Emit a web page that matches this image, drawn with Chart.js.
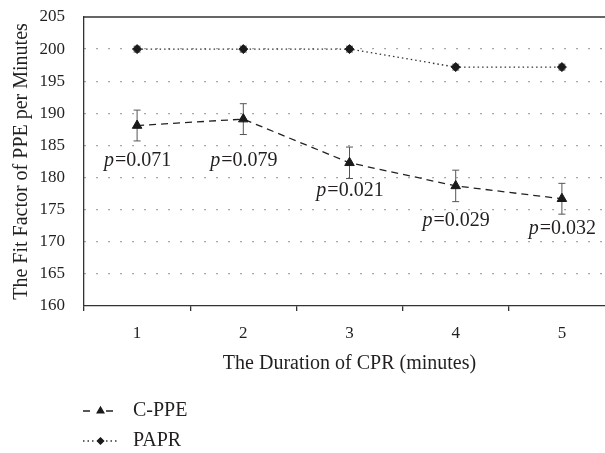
<!DOCTYPE html>
<html>
<head>
<meta charset="utf-8">
<script src="https://cdn.jsdelivr.net/npm/chart.js@4.4.1/dist/chart.umd.min.js"></script>
<style>
  html, body { margin: 0; padding: 0; background: #fff; overflow: hidden; }
  #wrap { width: 625px; height: 453px; }
</style>
</head>
<body>
<div id="wrap"><canvas id="chart" width="625" height="453"></canvas></div>
<script>
// --- data ---
const durations = ["1", "2", "3", "4", "5"];
const cppeMeans = [188.1, 189.1, 182.3, 178.7, 176.7];
const cppeErrors = [2.4, 2.4, 2.45, 2.45, 2.4];
const paprMeans = [200, 200, 200, 197.2, 197.2];
const paprErrors = [0.45, 0.45, 0.45, 0.45, 0.45];
const pValues = ["0.071", "0.079", "0.021", "0.029", "0.032"];
const yMin = 160, yMax = 205, yStep = 5;

const FONT = "'Liberation Serif', 'Times New Roman', serif";
const INK = "#231f20";

// エラーバー（マーカーの下に描く）
const errorBars = {
  id: "errorBars",
  beforeDatasetsDraw(chart) {
    const { ctx, scales: { x, y } } = chart;
    const sets = [[cppeMeans, cppeErrors], [paprMeans, paprErrors]];
    ctx.save();
    ctx.strokeStyle = "#555";
    ctx.lineWidth = 1;
    ctx.setLineDash([]);
    sets.forEach(([means, errs]) => {
      means.forEach((m, i) => {
        const px = x.getPixelForValue(i);
        const top = y.getPixelForValue(m + errs[i]);
        const bot = y.getPixelForValue(m - errs[i]);
        ctx.beginPath();
        ctx.moveTo(px, top); ctx.lineTo(px, bot);
        ctx.moveTo(px - 3.5, top); ctx.lineTo(px + 3.5, top);
        ctx.moveTo(px - 3.5, bot); ctx.lineTo(px + 3.5, bot);
        ctx.stroke();
      });
    });
    ctx.restore();
  }
};

// p値ラベル + 上枠 + 凡例
const extras = {
  id: "extras",
  afterDraw(chart, args, opts) {
    const { ctx, chartArea, scales: { x, y } } = chart;
    ctx.save();
    // top frame line
    ctx.strokeStyle = "#333";
    ctx.lineWidth = 1.3;
    ctx.beginPath();
    ctx.moveTo(chartArea.left, chartArea.top);
    ctx.lineTo(chartArea.right, chartArea.top);
    ctx.stroke();

    // p labels under C-PPE points
    ctx.fillStyle = INK;
    ctx.textBaseline = "middle";
    ctx.textAlign = "left";
    const italic = "italic 20px " + FONT;
    const normal = "20px " + FONT;
    pValues.forEach((p, i) => {
      const px = x.getPixelForValue(i);
      const py = y.getPixelForValue(cppeMeans[i]) + opts.labelOffsets[i];
      ctx.font = italic;
      const w1 = ctx.measureText("p").width;
      ctx.font = normal;
      const rest = "=" + p;
      const w2 = ctx.measureText(rest).width;
      const sx = px - (w1 + w2) / 2;
      ctx.font = italic;
      ctx.fillText("p", sx, py);
      ctx.font = normal;
      ctx.fillText(rest, sx + w1 + 1, py);
    });

    // legend
    const items = [
      { label: "C-PPE", ds: 0, y: 411 },
      { label: "PAPR", ds: 1, y: 441 }
    ];
    items.forEach(it => {
      const ds = chart.data.datasets[it.ds];
      ctx.strokeStyle = ds.borderColor;
      ctx.lineWidth = ds.borderWidth;
      ctx.setLineDash(ds.borderDash);
      ctx.beginPath();
      ctx.moveTo(83, it.y); ctx.lineTo(95, it.y);
      ctx.moveTo(106, it.y); ctx.lineTo(118, it.y);
      ctx.stroke();
      ctx.setLineDash([]);
      ctx.fillStyle = ds.pointBackgroundColor;
      ctx.strokeStyle = ds.pointBorderColor;
      Chart.helpers.drawPoint(ctx, {
        pointStyle: ds.pointStyle, radius: ds.pointRadius * 0.7, rotation: 0, borderWidth: 1
      }, 100.5, it.y);
      ctx.fillStyle = INK;
      ctx.font = normal;
      ctx.textAlign = "left";
      ctx.fillText(it.label, 133, it.y);
    });
    ctx.restore();
  }
};

const ctx = document.getElementById("chart").getContext("2d");
new Chart(ctx, {
  type: "line",
  data: {
    labels: durations,
    datasets: [
      {
        label: "C-PPE",
        data: cppeMeans,
        borderColor: "#222",
        borderWidth: 1.3,
        borderDash: [7, 5],
        pointStyle: "triangle",
        pointRadius: 5.5,
        pointBackgroundColor: "#1a1a1a",
        pointBorderColor: "#1a1a1a",
        pointBorderWidth: 1,
        tension: 0,
        fill: false
      },
      {
        label: "PAPR",
        data: paprMeans,
        borderColor: "#333",
        borderWidth: 1.3,
        borderDash: [1.5, 3],
        pointStyle: "rectRot",
        pointRadius: 4.5,
        pointBackgroundColor: "#1a1a1a",
        pointBorderColor: "#1a1a1a",
        pointBorderWidth: 1,
        tension: 0,
        fill: false
      }
    ]
  },
  options: {
    responsive: false,
    animation: false,
    events: [],
    layout: { padding: { left: 0, top: 17, right: 10, bottom: 72 } },
    plugins: {
      legend: { display: false },
      tooltip: { enabled: false },
      extras: { labelOffsets: [35, 42, 28, 35, 30] }
    },
    scales: {
      x: {
        offset: true,
        afterFit: s => { s.height = 75; },
        grid: {
          offset: true,
          drawOnChartArea: false,
          drawTicks: true,
          tickLength: 5,
          color: "#333",
          lineWidth: 1.3
        },
        border: { display: true, color: "#333", width: 1.3 },
        ticks: { color: INK, font: { family: FONT, size: 17 }, padding: 12 },
        title: {
          display: true,
          text: "The Duration of CPR (minutes)",
          color: INK,
          font: { family: FONT, size: 20 },
          padding: { top: 0, bottom: 5 }
        }
      },
      y: {
        min: yMin,
        max: yMax,
        // ラベルのはみ出し分の余白は不要
        afterFit: s => { s.width = 84; s.paddingTop = 0; s.paddingBottom = 0; },
        grid: {
          drawTicks: false,
          color: c => (c.tick && (c.tick.value === yMin || c.tick.value === yMax)) ? "rgba(0,0,0,0)" : "#8a8a8a",
          lineWidth: 1.3
        },
        border: { display: true, color: "#333", width: 1.3, dash: [1.5, 10.5] },
        ticks: {
          stepSize: yStep,
          color: INK,
          font: { family: FONT, size: 17 },
          padding: 19
        },
        title: {
          display: true,
          text: "The Fit Factor of PPE per Minutes",
          color: INK,
          font: { family: FONT, size: 20 },
          padding: { top: 10, bottom: 0 }
        }
      }
    }
  },
  plugins: [errorBars, extras]
});
</script>
</body>
</html>
